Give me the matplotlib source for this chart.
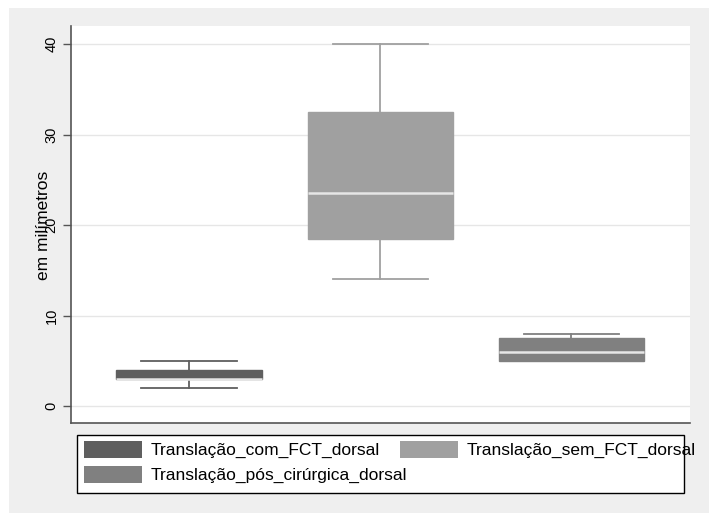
import matplotlib
matplotlib.use("Agg")
import matplotlib.pyplot as plt
from matplotlib.patches import Patch, Rectangle

plt.rcParams['font.family'] = ['Liberation Sans', 'DejaVu Sans']

# dados (mm)
series = ['Translação_com_FCT_dorsal', 'Translação_sem_FCT_dorsal',
          'Translação_pós_cirúrgica_dorsal']
whislo = [2, 14, 5]
q1 = [3, 18.5, 5]
med = [3, 23.5, 6]
q3 = [4, 32.5, 7.5]
whishi = [5, 40, 8]
colors = ['#5f5f5f', '#a0a0a0', '#808080']
yticks = [0, 10, 20, 30, 40]

W, H = 709, 513
fig = plt.figure(figsize=(W / 100, H / 100), dpi=100)
fig.patch.set_facecolor('white')
# fundo cinza estilo Stata
fig.patches.append(Rectangle((9 / W, 0), 1 - 9 / W, 1 - 8 / H,
                             transform=fig.transFigure, facecolor='#efefef',
                             edgecolor='none', zorder=-10))

ax = fig.add_axes([71 / W, 1 - 423 / H, 619 / W, 397 / H])
ax.set_facecolor('white')

stats = []
for i in range(len(series)):
    stats.append(dict(whislo=whislo[i], q1=q1[i], med=med[i], q3=q3[i],
                      whishi=whishi[i], fliers=[]))

bp = ax.bxp(stats, positions=[1, 2, 3], widths=0.76, capwidths=0.5,
            patch_artist=True, showfliers=False)
for i, c in enumerate(colors):
    bp['boxes'][i].set_facecolor(c)
    bp['boxes'][i].set_edgecolor(c)
    bp['medians'][i].set_color('#e6e6e6')
    bp['medians'][i].set_linewidth(1.8)
    for w in bp['whiskers'][2 * i:2 * i + 2]:
        w.set_color(c)
        w.set_linewidth(1.3)
    for cp in bp['caps'][2 * i:2 * i + 2]:
        cp.set_color(c)
        cp.set_linewidth(1.3)

ax.set_xlim(0.382, 3.62)
ax.set_ylim(-1.88, 42)
ax.set_xticks([])
ax.set_yticks(yticks)
ax.set_yticklabels([str(t) for t in yticks], rotation=90, va='center', fontsize=10.5)
ax.tick_params(axis='y', length=6, width=1, color='#555555', pad=3)
ax.yaxis.grid(True, color='#e6e6e6', linewidth=1)
ax.set_axisbelow(True)
for s in ['top', 'right']:
    ax.spines[s].set_visible(False)
for s in ['left', 'bottom']:
    ax.spines[s].set_color('#555555')
    ax.spines[s].set_linewidth(1.2)

# rótulo do eixo y (sobrepõe o "20", como no original)
fig.text(43 / W, 1 - 225 / H, 'em milímetros', rotation=90,
         ha='center', va='center', fontsize=12.5)

# legenda: moldura desenhada à parte, o texto pode passar da borda
fig.patches.append(Rectangle((77 / W, 1 - 493 / H), 607 / W, 58 / H,
                             transform=fig.transFigure, facecolor='white',
                             edgecolor='black', linewidth=1, zorder=1))
leg_kw = dict(loc='upper left', fontsize=12.5, frameon=False,
              handlelength=3.33, handleheight=1.09, handletextpad=0.5,
              columnspacing=1.15, borderaxespad=0, borderpad=0)
h = [Patch(facecolor=c, edgecolor='none', label=s) for c, s in zip(colors, series)]
# linha 1: com / sem FCT ; linha 2: pós-cirúrgica
leg1 = fig.legend(handles=h[:2], ncol=2, bbox_to_anchor=(84 / W, 1 - 441 / H), **leg_kw)
leg2 = fig.legend(handles=h[2:], ncol=1, bbox_to_anchor=(84 / W, 1 - 466 / H), **leg_kw)
leg1.set_zorder(2)
leg2.set_zorder(2)

fig.savefig('out.png', dpi=100)
